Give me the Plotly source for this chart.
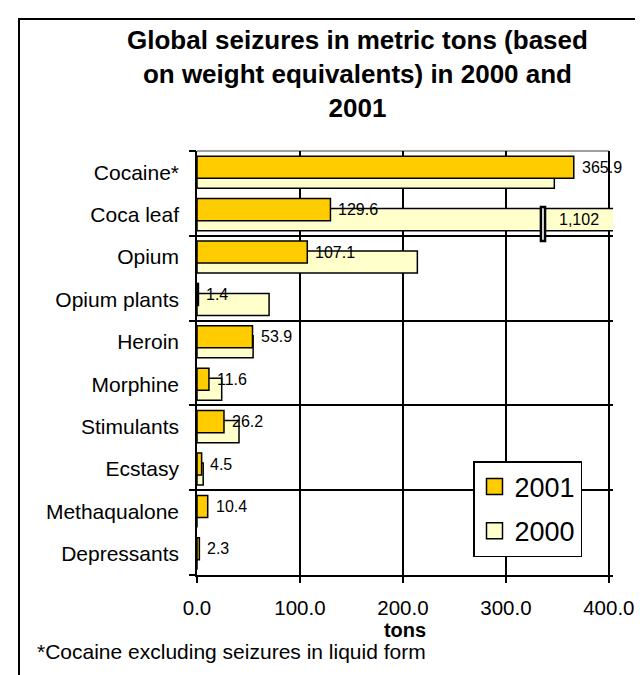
import plotly.graph_objects as go

# ---- data ----
categories = ["Cocaine*", "Coca leaf", "Opium", "Opium plants", "Heroin",
              "Morphine", "Stimulants", "Ecstasy", "Methaqualone", "Depressants"]
values_2001 = [365.9, 129.6, 107.1, 1.4, 53.9, 11.6, 26.2, 4.5, 10.4, 2.3]
values_2000 = [347.0, 1102.0, 214.0, 70.0, 54.5, 24.0, 40.8, 6.0, 0.0, 0.0]
x_ticks = [0, 100, 200, 300, 400]
title_text = "Global seizures in metric tons (based<br>on weight equivalents) in 2000 and<br>2001"
footnote = "*Cocaine excluding seizures in liquid form"

# ---- style ----
C2001 = "#FFCC00"
C2000 = "#FFFFCC"
FONT = "Liberation Sans, Arial, sans-serif"
BAR_W = 0.52
OFF_2001 = -0.377
OFF_2000 = -0.142
XMAX = 404
XEND = 400
BREAK_X = 336

W, H = 643, 675
ML, MR, MT, MB = 189, 38, 143, 108
pw = W - ML - MR
ph = H - MT - MB


def px_to_paper_x(px):
    return (px - ML) / pw


def px_to_paper_y(py):
    return (H - MB - py) / ph


fig = go.Figure()

fig.add_trace(go.Bar(
    name="2000", y=categories, x=values_2000, orientation="h",
    marker=dict(color=C2000, line=dict(color="black", width=1.5)),
    width=BAR_W, offset=OFF_2000, hoverinfo="x+y", showlegend=False))
fig.add_trace(go.Bar(
    name="2001", y=categories, x=values_2001, orientation="h",
    marker=dict(color=C2001, line=dict(color="black", width=1.5)),
    width=BAR_W, offset=OFF_2001, hoverinfo="x+y", showlegend=False))

# legend entries (square swatches)
for name, col in [("2001", C2001), ("2000", C2000)]:
    fig.add_trace(go.Scatter(
        x=[None], y=[None], mode="markers", name=name, legendgroup=name,
        marker=dict(symbol="square", size=16, color=col,
                    line=dict(color="black", width=1.5)),
        hoverinfo="skip"))

# dummy trace for the gridline axis
fig.add_trace(go.Scatter(x=[None], y=[None], yaxis="y2", showlegend=False, hoverinfo="skip"))

n = len(categories)
boundaries = [i - 0.5 for i in range(0, n + 1, 2)]

annotations = []
for cat, v in zip(categories, values_2001):
    annotations.append(dict(x=v, y=cat, xref="x", yref="y", text=f"{v:.1f}",
                            showarrow=False, xanchor="left", yanchor="middle",
                            xshift=6, yshift=5,
                            font=dict(family=FONT, size=16, color="black")))
# clipped coca leaf value label
annotations.append(dict(x=371, y="Coca leaf", xref="x", yref="y",
                        text=f"{values_2000[1]:,.0f}", showarrow=False,
                        xanchor="center", yanchor="middle", yshift=-5,
                        font=dict(family=FONT, size=16, color="black")))
# footnote
annotations.append(dict(x=px_to_paper_x(27), y=px_to_paper_y(643),
                        xref="paper", yref="paper", text=footnote, showarrow=False,
                        xanchor="left", yanchor="middle",
                        font=dict(family=FONT, size=21, color="black")))
# title
annotations.append(dict(x=px_to_paper_x(349), y=px_to_paper_y(15),
                        xref="paper", yref="paper", text="<b>" + title_text + "</b>",
                        showarrow=False, xanchor="center", yanchor="top", align="center",
                        font=dict(family=FONT, size=26, color="black")))

shapes = [
    # plot-area border (grey) on top and right
    dict(type="line", xref="x", yref="y domain", x0=XEND, x1=XEND, y0=0, y1=1,
         line=dict(color="#808080", width=1.5), layer="below"),
    dict(type="line", xref="x", yref="y domain", x0=0, x1=XEND, y0=1, y1=1,
         line=dict(color="#808080", width=1.5), layer="below"),
    # axis break marker on coca leaf 2000 bar
    dict(type="rect", xref="x", yref="y", x0=BREAK_X - 2, x1=BREAK_X + 2,
         y0=1 - 0.18, y1=1 + 0.62, fillcolor="white",
         line=dict(color="black", width=2.5), layer="above"),
    # outer chart frame
    dict(type="rect", xref="paper", yref="paper",
         x0=px_to_paper_x(11), x1=px_to_paper_x(W + 20),
         y0=px_to_paper_y(H + 20), y1=px_to_paper_y(11),
         line=dict(color="black", width=2), fillcolor="rgba(0,0,0,0)", layer="below"),
]

fig.update_layout(
    width=W, height=H,
    margin=dict(l=ML, r=MR, t=MT, b=MB),
    paper_bgcolor="white", plot_bgcolor="white",
    barmode="overlay",
    font=dict(family=FONT, color="black"),
    xaxis=dict(range=[0, XMAX], tickvals=x_ticks, tickformat=".1f",
               ticks="outside", ticklen=6, tickwidth=1.5, tickcolor="black",
               ticklabelstandoff=8,
               showgrid=True, gridcolor="black", gridwidth=1.5,
               showline=True, linecolor="black", linewidth=1.5, zeroline=False,
               tickfont=dict(family=FONT, size=20.5),
               title=dict(text="<b>tons</b>", font=dict(family=FONT, size=20), standoff=4)),
    yaxis=dict(type="category", categoryorder="array", categoryarray=categories,
               range=[n - 0.5, -0.5], showgrid=False, ticks="",
               ticklabelstandoff=12,
               showline=True, linecolor="black", linewidth=1.5,
               tickfont=dict(family=FONT, size=21)),
    yaxis2=dict(overlaying="y", range=[n - 0.5, -0.5], tickvals=boundaries,
                showticklabels=False, ticks="outside", ticklen=7, tickwidth=1.5,
                tickcolor="black", showgrid=True, gridcolor="black", gridwidth=1.5,
                zeroline=False, showline=False, side="left"),
    legend=dict(x=px_to_paper_x(465), y=px_to_paper_y(453), xanchor="left", yanchor="top",
                bgcolor="white", bordercolor="black", borderwidth=1.5,
                font=dict(family=FONT, size=27), tracegroupgap=6,
                itemwidth=30),
    annotations=annotations,
    shapes=shapes,
    showlegend=True,
)

fig.write_html("out.html")
